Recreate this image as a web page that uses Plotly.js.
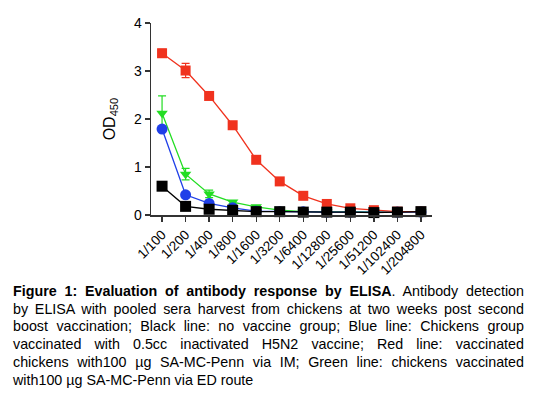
<!DOCTYPE html>
<html><head><meta charset="utf-8">
<script src="https://cdn.plot.ly/plotly-3.0.1.min.js"></script>
<style>
body{margin:0;padding:0;background:#fff;}
#wrap{position:relative;width:533px;height:396px;overflow:hidden;}
#chart{position:absolute;left:0;top:0;width:533px;height:396px;}
#cap{position:absolute;left:13px;top:283px;width:511px;font-family:"Liberation Sans",Arial,sans-serif;font-size:14.3px;line-height:17.7px;color:#000;}
#cap .j{text-align:justify;text-align-last:justify;white-space:nowrap;}
</style></head>
<body><div id="wrap"><div id="chart"></div>
<div id="cap">
<div class="j"><b>Figure 1: Evaluation of antibody response by ELISA</b>. Antibody detection</div>
<div class="j" style="white-space:normal">by ELISA with pooled sera harvest from chickens at two weeks post second</div>
<div class="j" style="white-space:normal">boost vaccination; Black line: no vaccine group; Blue line: Chickens group</div>
<div class="j" style="white-space:normal">vaccinated with 0.5cc inactivated H5N2 vaccine; Red line: vaccinated</div>
<div class="j" style="white-space:normal">chickens with100 µg SA-MC-Penn via IM; Green line: chickens vaccinated</div>
<div>with100 µg SA-MC-Penn via ED route</div>
</div></div>
<script>
const dilutions = ["1/100","1/200","1/400","1/800","1/1600","1/3200","1/6400","1/12800","1/25600","1/51200","1/102400","1/204800"];
const redIM   = [3.37,3.01,2.48,1.87,1.15,0.70,0.40,0.23,0.14,0.10,0.07,0.07];
const redErr  = [0.08,0.15,0.03,0.03,0.03,0.02,0.02,0.02,0.01,0.01,0.01,0.01];
const greenED = [2.12,0.85,0.44,0.27,0.17,0.10,0.07,0.07,0.07,0.06,0.06,0.06];
const greenErr= [0.36,0.12,0.08,0.03,0.02,0.01,0.01,0.01,0.01,0.01,0.01,0.01];
const blueH5N2= [1.79,0.42,0.24,0.15,0.08,0.07,0.07,0.06,0.06,0.06,0.06,0.06];
const blackNo = [0.60,0.18,0.12,0.10,0.07,0.07,0.06,0.06,0.06,0.05,0.06,0.07];

function tr(y, err, color, sym, size){
  const t = {x:dilutions, y:y, type:'scatter', mode:'lines+markers', cliponaxis:false,
    line:{color:color,width:1.3}, marker:{color:color,symbol:sym,size:size}, showlegend:false};
  if(err) t.error_y = {type:'data', array:err, arrayminus:err, color:color, thickness:1.2, width:4};
  return t;
}
const data = [
  tr(greenED, greenErr, '#22dd22', 'triangle-down', 10),
  tr(blueH5N2, null, '#1f3fe8', 'circle', 11),
  tr(redIM, redErr, '#f0321e', 'square', 10),
  tr(blackNo, null, '#000000', 'square', 11)
];
const layout = {
  width:533, height:396,
  margin:{l:151, r:101, t:23, b:181},
  paper_bgcolor:'#fff', plot_bgcolor:'#fff',
  font:{family:'"Liberation Sans", Arial, sans-serif', color:'#000'},
  xaxis:{type:'category', range:[-0.47,11.47], showgrid:false, zeroline:false,
    showline:true, linecolor:'#333', linewidth:1.5, ticks:'outside', ticklen:5, tickcolor:'#333', tickwidth:1.3,
    tickangle:-45, tickfont:{size:13.5}},
  yaxis:{range:[0,4], tickvals:[0,1,2,3,4], showgrid:false, zeroline:false,
    showline:true, linecolor:'#333', linewidth:1.5, ticks:'outside', ticklen:5, tickcolor:'#333', tickwidth:1.3,
    tickfont:{size:14}, title:{text:'OD<sub>450</sub>', font:{size:16}, standoff:14}}
};
Plotly.newPlot('chart', data, layout, {displayModeBar:false, staticPlot:true});
</script></body></html>
